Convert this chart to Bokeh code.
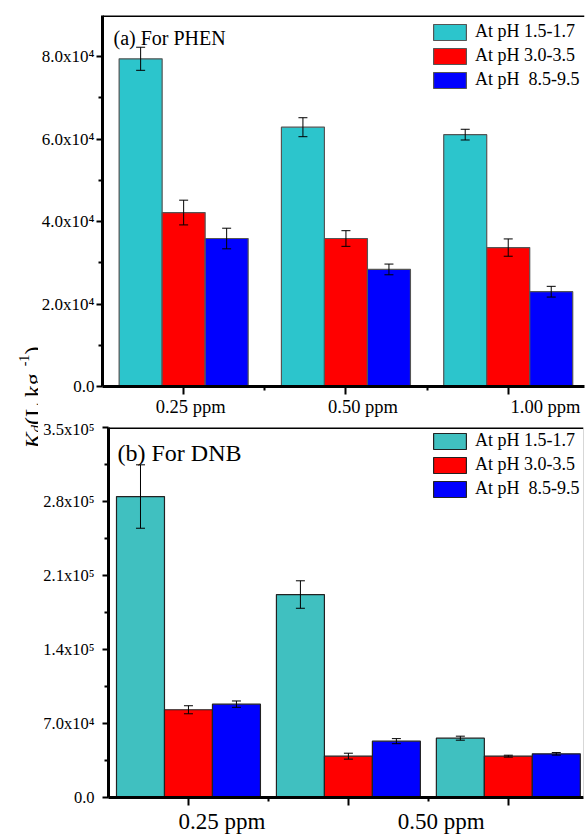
import math
from bokeh.plotting import figure
from bokeh.models import (ColumnDataSource, Range1d, FixedTicker, LinearAxis, Whisker,
                          TeeHead, Legend, LegendItem, Label, Span)
from bokeh.layouts import row, column
from bokeh.embed import file_html
from bokeh.resources import INLINE

# ---------------- data ----------------
concentrations = ["0.25 ppm", "0.50 ppm", "1.00 ppm"]
ph_labels = ["At pH 1.5-1.7", "At pH 3.0-3.5", "At pH  8.5-9.5"]

# (a) PHEN
phen_ph15 = [79500, 62900, 61100]
phen_ph15_err = [2800, 2300, 1300]
phen_ph30 = [42200, 35900, 33700]
phen_ph30_err = [3000, 1900, 2100]
phen_ph85 = [35900, 28400, 23000]
phen_ph85_err = [2500, 1300, 1300]

# (b) DNB
dnb_ph15 = [284700, 192000, 56100]
dnb_ph15_err = [30000, 13000, 1900]
dnb_ph30 = [83000, 39100, 39100]
dnb_ph30_err = [3800, 2800, 900]
dnb_ph85 = [88300, 53300, 41300]
dnb_ph85_err = [3000, 2400, 1200]

phen_yticks = [0, 20000, 40000, 60000, 80000]
phen_yminor = [10000, 30000, 50000, 70000]
phen_ytick_labels = ["0.0", "2.0x10\u2074", "4.0x10\u2074", "6.0x10\u2074", "8.0x10\u2074"]
dnb_yticks = [0, 70000, 140000, 210000, 280000, 350000]
dnb_yminor = [35000, 105000, 175000, 245000, 315000]
dnb_ytick_labels = ["0.0", "7.0x10\u2074", "1.4x10\u2075", "2.1x10\u2075", "2.8x10\u2075", "3.5x10\u2075"]

FONT = "Liberation Serif"
ANG = math.pi / 2


def no_frame_align(p):
    if "frame_align" in p.properties():
        p.frame_align = False


def build_panel(series, errs, colors, ymax, yticks, yminor, ylabels, title, title_size,
                width, height, mb_left, mb_right, mb_top, mb_bottom, bar_w, xlab_pos,
                xlab_size, xlab_standoff, ytick_size, ytick_standoff, legend_loc,
                bar_line, right_line):
    p = figure(width=width, height=height, x_range=Range1d(0.5, 3.47), y_range=Range1d(0, ymax),
               output_backend="svg", toolbar_location=None,
               min_border_left=mb_left, min_border_right=mb_right,
               min_border_top=mb_top, min_border_bottom=mb_bottom,
               outline_line_color=None, background_fill_color="white",
               border_fill_color="white")
    no_frame_align(p)
    p.xgrid.visible = False
    p.ygrid.visible = False

    offsets = [-bar_w, 0.0, bar_w]
    items = []
    for k, (vals, er, col) in enumerate(zip(series, errs, colors)):
        xs = [i + 1 + offsets[k] for i in range(len(vals))]
        src = ColumnDataSource(dict(x=xs, top=vals,
                                    upper=[v + e for v, e in zip(vals, er)],
                                    lower=[v - e for v, e in zip(vals, er)]))
        r = p.vbar(x="x", top="top", width=bar_w, source=src, fill_color=col,
                   line_color=bar_line, line_width=1.2)
        w = Whisker(base="x", upper="upper", lower="lower", source=src,
                    line_color="black", line_width=1, level="overlay",
                    upper_head=TeeHead(size=9, line_color="black", line_width=1),
                    lower_head=TeeHead(size=9, line_color="black", line_width=1))
        p.add_layout(w)
        items.append(LegendItem(label=ph_labels[k], renderers=[r]))

    # y axis
    ya = p.yaxis[0]
    ya.ticker = FixedTicker(ticks=yticks, minor_ticks=yminor)
    ya.major_label_overrides = {t: l for t, l in zip(yticks, ylabels)}
    ya.major_label_text_font = FONT
    ya.major_label_text_font_size = ytick_size
    ya.major_label_text_color = "black"
    ya.axis_line_width = 3
    ya.axis_line_color = "black"
    ya.major_tick_out = 6
    ya.major_tick_in = 0
    ya.minor_tick_out = 4
    ya.minor_tick_in = 0
    ya.major_tick_line_width = 2
    ya.minor_tick_line_width = 2
    ya.major_label_standoff = ytick_standoff

    # x axis (ticks only)
    xa = p.xaxis[0]
    xa.ticker = FixedTicker(ticks=[1, 2, 3], minor_ticks=[1.5, 2.5])
    xa.major_label_overrides = {1: "", 2: "", 3: ""}
    xa.major_label_text_font_size = "1px"
    xa.major_label_standoff = 0
    xa.axis_line_width = 3
    xa.axis_line_color = "black"
    xa.major_tick_out = 8
    xa.major_tick_in = 0
    xa.minor_tick_out = 4
    xa.minor_tick_in = 0
    xa.major_tick_line_width = 2
    xa.minor_tick_line_width = 2

    # x axis (category labels)
    la = LinearAxis(ticker=FixedTicker(ticks=xlab_pos, minor_ticks=[]),
                    major_label_overrides={t: l for t, l in zip(xlab_pos, concentrations)},
                    major_label_text_font=FONT, major_label_text_font_size=xlab_size,
                    major_label_text_color="black",
                    major_label_standoff=xlab_standoff,
                    axis_line_color=None, major_tick_line_color=None,
                    minor_tick_line_color=None, major_tick_out=0, major_tick_in=0,
                    minor_tick_out=0, minor_tick_in=0)
    p.add_layout(la, "below")

    # frame top line and right line
    p.add_layout(Span(location=ymax, dimension="width", line_color="black", line_width=3))
    if right_line:
        p.add_layout(Span(location=3.47, dimension="height", line_color="#b0b0b0", line_width=1))

    # title
    p.add_layout(Label(x=title[1], y=title[2], x_units="screen", y_units="screen",
                       text=title[0], text_font=FONT, text_font_size=title_size,
                       text_color="black", text_baseline="alphabetic"))

    legend = Legend(items=items, location=legend_loc, glyph_width=41, glyph_height=20,
                    label_height=20, spacing=3, padding=0, margin=0, label_standoff=5,
                    label_text_font=FONT, label_text_font_size="18px",
                    label_text_color="black",
                    border_line_color=None, background_fill_alpha=0)
    p.add_layout(legend)
    return p


STRIP_W = 38
PAGE_W = 587

p1 = build_panel([phen_ph15, phen_ph30, phen_ph85],
                 [phen_ph15_err, phen_ph30_err, phen_ph85_err],
                 ["#2CC5CC", "#FF0000", "#0000FF"],
                 90000, phen_yticks, phen_yminor, phen_ytick_labels,
                 ("(a)  For PHEN", 11, 349), "20px",
                 PAGE_W - STRIP_W, 419, 64, 3, 15, 33, 0.265, [1.043, 2.105, 3.23],
                 "18.5px", 2, "17px", 2, (327, 296), "#555555", False)

p2 = build_panel([dnb_ph15, dnb_ph30, dnb_ph85],
                 [dnb_ph15_err, dnb_ph30_err, dnb_ph85_err],
                 ["#40C0C0", "#FF0000", "#0000FF"],
                 350000, dnb_yticks, dnb_yminor, dnb_ytick_labels,
                 ("(b) For DNB", 9, 345), "24px",
                 PAGE_W - STRIP_W, 419, 70, 4, 8, 41, 0.30, [1.21, 2.58, 3.94],
                 "23px", 3, "16.5px", 8, (321, 298), "#222222", True)

# ---- shared rotated y-axis title in a narrow strip (no axes -> frame = canvas) ----
strip = figure(width=STRIP_W, height=838, x_range=Range1d(0, 1), y_range=Range1d(0, 1),
               x_axis_location=None, y_axis_location=None,
               output_backend="svg", toolbar_location=None,
               min_border_left=0, min_border_right=0, min_border_top=0, min_border_bottom=0,
               outline_line_color=None, border_fill_color="white", background_fill_color="white")
no_frame_align(strip)
strip.xgrid.visible = False
strip.ygrid.visible = False

# (text, baseline x, start y from bottom of strip, size, style)
pieces = [
    ("K", 32, 390, "24px", "italic"),
    ("d", 35, 406, "15px", "italic"),
    (" (L kg", 32, 413.5, "24px", "normal"),
    ("-1", 23, 472.2, "14px", "normal"),
    (")", 32, 484, "24px", "normal"),
]
for txt, bx, by, fs, st in pieces:
    strip.add_layout(Label(x=bx, y=by, x_units="screen", y_units="screen", text=txt,
                           angle=ANG, text_font=FONT, text_font_size=fs,
                           text_font_style=st, text_color="black",
                           text_baseline="alphabetic", text_align="left"))

layout = row(strip, column(p1, p2))

with open("out.html", "w") as f:
    f.write(file_html(layout, INLINE))
